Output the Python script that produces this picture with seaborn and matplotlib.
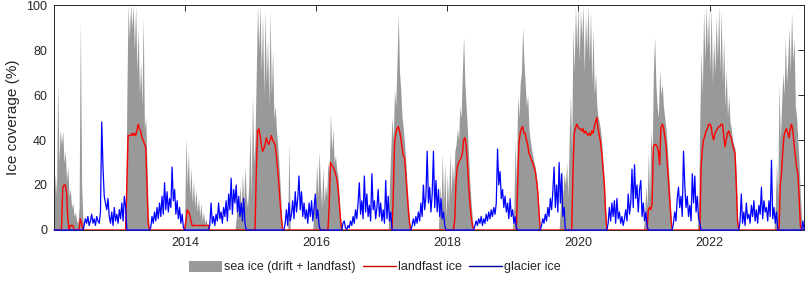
import numpy as np
import pandas as pd
import matplotlib
matplotlib.use("Agg")
import matplotlib.pyplot as plt
from matplotlib.patches import Patch
from matplotlib.lines import Line2D
import seaborn as sns

# weekly values (% coverage), each list starts at the given week
start_week = "2012-01-01"
n_weeks = 598

sea_ice = {
    "2012-01-01": [10, 25, 15, 66, 30, 45, 38, 44, 30, 35, 22, 28, 15, 18, 10, 12, 6, 8, 4, 3, 10, 93, 20, 5],
    "2013-02-10": [60, 100, 85, 100, 90, 100, 80, 100, 70, 90, 60, 75, 55, 95, 45, 50, 30, 8],
    "2013-12-29": [5, 41, 20, 35, 15, 28, 12, 22, 10, 18, 8, 14, 6, 12, 4, 8, 3, 5, 2, 3],
    "2014-10-12": [5, 15, 8, 20, 10, 25, 12, 28, 15, 10, 20, 45, 15, 60, 30, 40, 70, 100, 80, 100,
                   70, 95, 60, 98, 65, 85, 55, 97, 60, 80, 50, 55, 45, 38, 30, 20, 8],
    "2015-07-26": [0, 39, 0],
    "2015-12-13": [0, 15, 10, 30, 15, 35, 20, 10, 28, 12, 20, 15, 30, 25, 52, 35, 45, 30, 33, 27, 24, 15, 6],
    "2017-02-05": [0, 20, 35, 50, 40, 62, 55, 75, 96, 70, 62, 50, 45, 38, 30, 20, 12, 4],
    "2017-11-12": [0, 20, 8, 34, 10, 30, 5, 25, 10, 35, 15, 30, 20, 35, 38, 45, 40, 55, 50, 70,
                   86, 65, 55, 45, 32, 20, 12, 5],
    "2019-01-06": [10, 40, 20, 60, 50, 65, 70, 90, 75, 65, 55, 60, 45, 40, 36, 33, 30, 28, 24, 18, 9],
    "2019-09-22": [10, 28, 15, 25, 20, 30, 15, 40, 60, 35, 90, 70, 100, 80, 100, 75, 98, 85, 100, 70,
                   95, 80, 100, 75, 97, 65, 90, 60, 70, 55, 50, 48, 44, 38, 30, 22, 10],
    "2021-01-03": [5, 20, 10, 35, 15, 45, 30, 70, 86, 65, 55, 50, 71, 60, 65, 55, 50, 45, 38, 28, 18, 8],
    "2021-10-31": [10, 50, 80, 60, 98, 75, 100, 80, 98, 70, 100, 65, 85, 70, 95, 75, 100, 70, 98, 65,
                   85, 55, 72, 50, 60, 48, 45, 40, 38, 36, 25, 6],
    "2023-01-01": [10, 30, 15, 65, 40, 55, 70, 60, 85, 65, 75, 90, 70, 97, 75, 85, 55, 50, 40, 30, 15, 5],
}

landfast_ice = {
    "2012-02-19": [19, 20, 20, 17, 5, 0, 2, 2, 2, 0, 0, 0, 0, 0, 5, 3, 0],
    "2013-02-10": [20, 42, 42, 42, 43, 42, 43, 42, 44, 47, 45, 44, 41, 40, 38, 37, 20, 3, 0],
    "2014-01-05": [4, 9, 8, 7, 4, 2, 2, 2, 2, 2, 2, 2, 2, 2, 2, 2, 2, 2, 2, 0],
    "2015-01-25": [0, 25, 44, 45, 42, 38, 35, 36, 38, 41, 39, 38, 40, 42, 40, 39, 38, 33, 27, 20, 12, 5, 0],
    "2016-03-06": [0, 10, 30, 29, 28, 27, 25, 23, 19, 12, 5, 0],
    "2017-02-26": [0, 15, 38, 43, 45, 46, 44, 41, 37, 33, 32, 25, 17, 9, 3, 0],
    "2018-02-04": [0, 5, 22, 28, 30, 31, 32, 34, 40, 41, 38, 30, 20, 12, 6, 2, 0],
    "2019-01-20": [0, 20, 38, 43, 45, 46, 43, 43, 40, 38, 34, 33, 31, 30, 28, 26, 22, 17, 8, 0],
    "2019-11-24": [0, 25, 43, 45, 47, 46, 45, 45, 44, 45, 43, 44, 43, 42, 43, 42, 44, 43, 46, 48,
                   50, 45, 42, 39, 34, 27, 20, 8, 0],
    "2021-01-17": [0, 9, 10, 9, 12, 37, 38, 38, 37, 35, 29, 45, 47, 46, 42, 38, 30, 22, 13, 5, 0],
    "2021-11-07": [0, 28, 36, 40, 42, 44, 45, 47, 47, 46, 42, 40, 43, 44, 45, 46, 46, 47, 47, 42,
                   37, 40, 43, 44, 42, 41, 38, 36, 34, 20, 4, 0],
    "2023-01-22": [0, 20, 25, 35, 42, 44, 45, 43, 41, 45, 47, 44, 38, 33, 28, 25, 15, 2, 0],
}

glacier_ice = {
    "2012-06-17": [2, 5, 3, 6, 2, 4, 7, 3, 5, 2, 6, 4, 3, 8, 48, 28, 15, 12, 9, 14, 6, 3, 8, 2, 10,
                   4, 7, 3, 9, 5, 12, 4, 15, 10, 0],
    "2013-06-16": [0, 1, 6, 3, 8, 4, 10, 5, 12, 6, 15, 7, 21, 9, 17, 8, 14, 10, 28, 13, 18, 7, 13, 5,
                   10, 3, 7, 1],
    "2014-05-18": [2, 12, 3, 6, 2, 7, 4, 12, 5, 8, 3, 10, 6, 13, 4, 16, 9, 23, 7, 18, 12, 20, 8, 15,
                   6, 12, 4, 14, 3, 0],
    "2015-07-05": [0, 3, 9, 2, 12, 4, 7, 13, 5, 17, 8, 14, 24, 9, 17, 6, 12, 5, 9, 3, 12, 6, 13, 4,
                   10, 16, 5, 9, 2, 0],
    "2016-05-29": [3, 4, 1, 0, 2, 1, 4, 2, 6, 3, 9, 5, 12, 21, 7, 13, 5, 24, 8, 16, 6, 11, 4, 25, 9,
                   13, 5, 10, 18, 6, 12, 4, 9, 3, 22, 5, 15, 4, 8, 0],
    "2017-06-11": [0, 2, 5, 2, 6, 3, 8, 4, 12, 6, 20, 9, 15, 35, 12, 19, 8, 16, 35, 10, 22, 8, 18, 6,
                   14, 5, 8, 2, 0],
    "2018-05-27": [0, 2, 4, 2, 5, 3, 6, 2, 5, 3, 7, 4, 8, 5, 9, 6, 10, 7, 12, 36, 20, 26, 14, 18, 10,
                   15, 8, 12, 5, 14, 6, 9, 3, 6, 1, 0],
    "2019-06-02": [0, 2, 5, 3, 7, 4, 10, 6, 14, 9, 17, 28, 10, 20, 8, 30, 12, 25, 6, 10, 0],
    "2020-06-14": [3, 10, 4, 12, 6, 13, 3, 14, 5, 8, 3, 6, 2, 5, 9, 4, 16, 7, 12, 27, 10, 29, 14, 20,
                   8, 18, 22, 6, 12, 4, 8, 2, 0],
    "2021-06-06": [0, 3, 8, 4, 14, 19, 10, 15, 6, 35, 20, 10, 15, 6, 11, 4, 25, 12, 24, 8, 15, 5, 3, 0],
    "2022-06-12": [0, 4, 16, 3, 8, 2, 12, 5, 7, 3, 11, 6, 13, 4, 9, 3, 11, 7, 19, 5, 13, 8, 10, 4,
                   13, 6, 31, 5, 10, 3, 8, 0],
    "2023-05-28": [0, 4, 0],
}

year_labels = ["2014", "2016", "2018", "2020", "2022"]
y_ticks = [0, 20, 40, 60, 80, 100]
legend_labels = ["sea ice (drift + landfast)", "landfast ice", "glacier ice"]

weeks = pd.date_range(start_week, periods=n_weeks, freq="7D")


def to_series(segments):
    s = np.zeros(len(weeks))
    for start, vals in segments.items():
        i = weeks.searchsorted(pd.Timestamp(start))
        s[i:i + len(vals)] = vals
    return s


df = pd.DataFrame({"date": weeks,
                   "sea": to_series(sea_ice),
                   "landfast": to_series(landfast_ice),
                   "glacier": to_series(glacier_ice)})

sns.set_style("white")
plt.rcParams["font.family"] = ["Liberation Sans", "DejaVu Sans"]

fig, ax = plt.subplots(figsize=(8.08, 2.88), dpi=100)
fig.subplots_adjust(left=0.0668, right=0.995, bottom=0.2014, top=0.9826)

gray = "#999999"
ax.fill_between(df["date"], 0, df["sea"], color=gray, lw=0)
sns.lineplot(data=df, x="date", y="landfast", color="#ff0000", lw=1.0, ax=ax)
sns.lineplot(data=df, x="date", y="glacier", color="#0000ff", lw=0.9, ax=ax,
             zorder=3, clip_on=False)

ax.set_xlim(pd.Timestamp("2012-01-01"), pd.Timestamp("2023-06-10"))
ax.set_ylim(0, 100)
ax.set_xticks([pd.Timestamp(y + "-01-01") for y in year_labels])
ax.set_xticklabels(year_labels)
ax.set_yticks(y_ticks)
ax.tick_params(direction="in", top=True, right=True, length=4, width=0.7,
               labelsize=9, labelcolor="#262626", pad=5)
ax.set_xlabel("")
ax.set_ylabel("Ice coverage (%)", fontsize=11, color="#262626", labelpad=4)
for sp in ax.spines.values():
    sp.set_color("#262626")
    sp.set_linewidth(0.7)

handles = [Patch(facecolor=gray, edgecolor="none"),
           Line2D([], [], color="#cc0000", lw=1.0),
           Line2D([], [], color="#000099", lw=1.0)]
fig.legend(handles, legend_labels, loc="center", bbox_to_anchor=(375 / 808, 1 - 267 / 288),
           ncol=3, frameon=False, fontsize=9, handlelength=2.6, handleheight=1.0,
           handletextpad=0.2, columnspacing=0.6)

fig.savefig("out.png", dpi=100)
